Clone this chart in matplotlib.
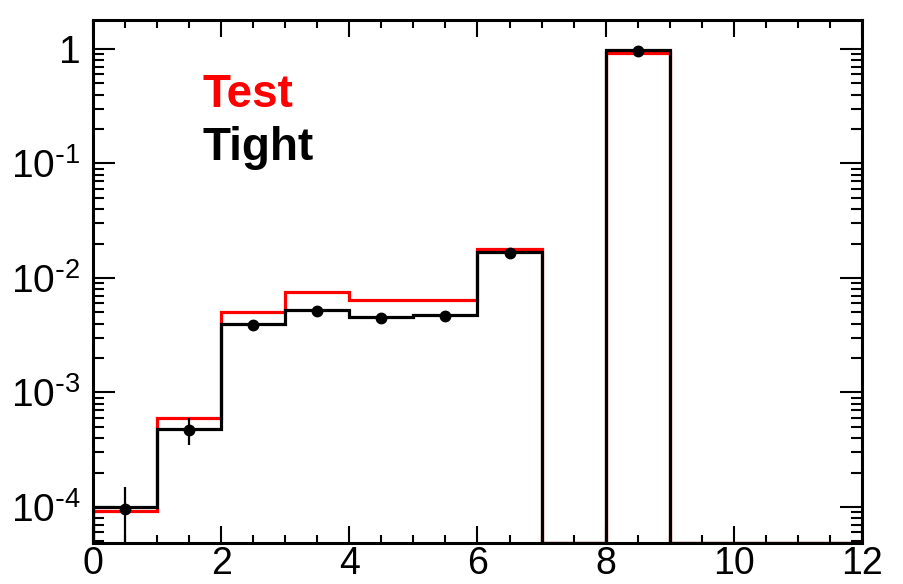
import numpy as np
import matplotlib
matplotlib.use("Agg")
import matplotlib.pyplot as plt
from matplotlib.ticker import FixedLocator, LogLocator, MultipleLocator, NullFormatter

plt.rcParams["font.family"] = ["Liberation Sans", "DejaVu Sans"]
plt.rcParams["mathtext.default"] = "regular"

# Histogram contents (12 unit-wide bins from 0 to 12)
bin_edges = np.arange(0, 13, 1)
test_vals = [9.3e-5, 5.95e-4, 5.05e-3, 7.5e-3, 6.43e-3, 6.43e-3, 1.78e-2, 0, 0.93, 0, 0, 0]
tight_vals = [1.0e-4, 4.8e-4, 3.94e-3, 5.22e-3, 4.59e-3, 4.72e-3, 1.69e-2, 0, 0.98, 0, 0, 0]
data_vals = [9.55e-5, 4.70e-4, 3.89e-3, 5.15e-3, 4.50e-3, 4.66e-3, 1.64e-2, 0, 0.96, 0, 0, 0]
data_errs = [5.5e-5, 1.25e-4, 3.5e-4, 4.0e-4, 3.8e-4, 3.8e-4, 7.0e-4, 0, 6.0e-3, 0, 0, 0]

x_tick_vals = [0, 2, 4, 6, 8, 10, 12]
x_tick_labels = ["0", "2", "4", "6", "8", "10", "12"]
y_tick_vals = [1e-4, 1e-3, 1e-2, 1e-1, 1]
y_tick_labels = ["$10^{\\text{-}4}$", "$10^{\\text{-}3}$", "$10^{\\text{-}2}$",
                 "$10^{\\text{-}1}$", "1"]

y_lo, y_hi = 4.85e-5, 1.79

fig = plt.figure(figsize=(9.04, 5.84), dpi=100)
ax = fig.add_axes([93 / 904, 41 / 584, 769 / 904, 523 / 584])
ax.set_yscale("log")
ax.set_xlim(0, 12)
ax.set_ylim(y_lo, y_hi)


def floor_empty(vals):
    v = np.asarray(vals, dtype=float)
    return np.where(v > 0, v, y_lo)


ax.stairs(floor_empty(test_vals), bin_edges, baseline=y_lo, color="#ff0000", lw=2.3, zorder=2)
ax.stairs(floor_empty(tight_vals), bin_edges, baseline=y_lo, color="black", lw=2.3, zorder=3)

centers = 0.5 * (bin_edges[:-1] + bin_edges[1:])
dv = np.asarray(data_vals)
de = np.asarray(data_errs)
keep = dv > 0
ax.errorbar(centers[keep], dv[keep], yerr=de[keep], fmt="o", color="black",
            ms=7.5, elinewidth=1.6, capsize=0, zorder=4)

# Frame and ticks
for sp in ax.spines.values():
    sp.set_linewidth(2.2)
ax.xaxis.set_major_locator(FixedLocator(x_tick_vals))
ax.set_xticklabels(x_tick_labels)
ax.xaxis.set_minor_locator(MultipleLocator(0.5))
ax.yaxis.set_major_locator(FixedLocator(y_tick_vals))
ax.set_yticklabels(y_tick_labels)
ax.yaxis.set_minor_locator(LogLocator(base=10, subs=np.arange(2, 10), numticks=20))
ax.yaxis.set_minor_formatter(NullFormatter())

ax.tick_params(which="both", direction="in", top=True, right=True, width=1.5, color="black")
ax.tick_params(axis="x", which="major", length=12, labelsize=27, pad=2)
ax.tick_params(axis="x", which="minor", length=6)
ax.tick_params(axis="y", which="major", length=16, labelsize=28, pad=9)
ax.tick_params(axis="y", which="minor", length=8)

# Legend labels
fig.text(203 / 904, (584 - 107) / 584, "Test", color="#ff0000", fontsize=33,
         fontweight="bold", ha="left", va="baseline")
fig.text(203 / 904, (584 - 160) / 584, "Tight", color="black", fontsize=33,
         fontweight="bold", ha="left", va="baseline")

fig.savefig("out.png", dpi=100)
